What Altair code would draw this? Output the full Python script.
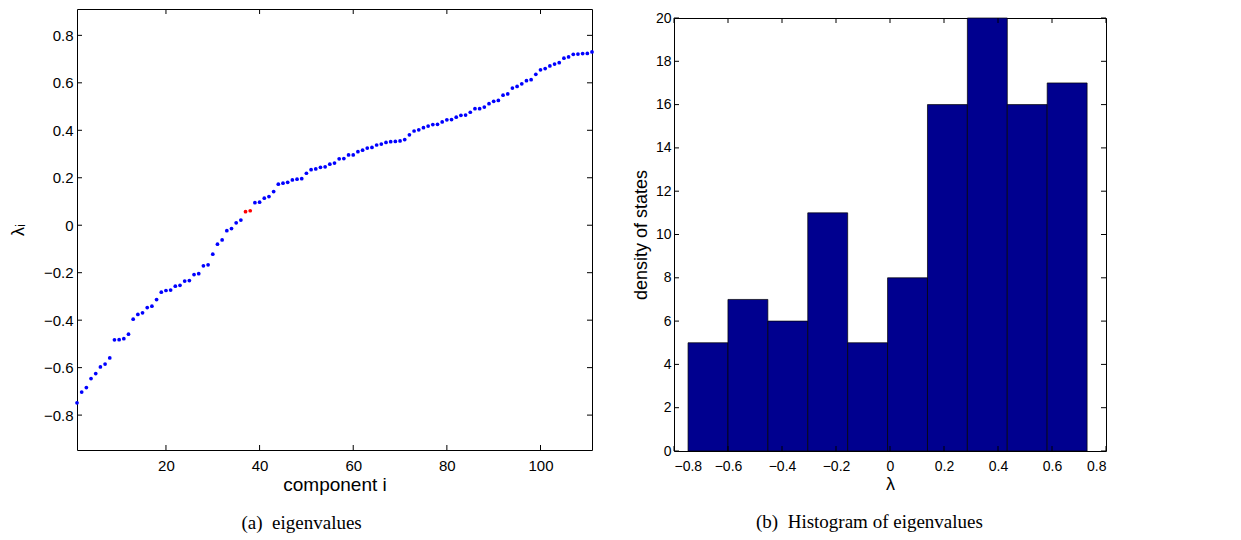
import altair as alt
import pandas as pd

# ---------------- data ----------------
component = list(range(1, 112))
eigenvalues = [
    -0.748, -0.703, -0.684, -0.646, -0.625, -0.597, -0.585, -0.559, -0.483, -0.482,
    -0.478, -0.459, -0.396, -0.376, -0.369, -0.347, -0.341, -0.313, -0.282, -0.275,
    -0.273, -0.257, -0.253, -0.235, -0.233, -0.208, -0.204, -0.171, -0.167, -0.122,
    -0.080, -0.062, -0.023, -0.014, 0.010, 0.022, 0.057, 0.061, 0.095, 0.097,
    0.114, 0.121, 0.142, 0.173, 0.177, 0.181, 0.191, 0.194, 0.196, 0.219,
    0.234, 0.237, 0.244, 0.246, 0.257, 0.262, 0.280, 0.281, 0.296, 0.296,
    0.310, 0.316, 0.325, 0.328, 0.338, 0.342, 0.349, 0.352, 0.353, 0.355,
    0.361, 0.381, 0.397, 0.402, 0.411, 0.418, 0.424, 0.425, 0.435, 0.444,
    0.445, 0.455, 0.463, 0.464, 0.476, 0.491, 0.491, 0.498, 0.512, 0.522,
    0.526, 0.548, 0.553, 0.578, 0.585, 0.596, 0.609, 0.613, 0.636, 0.655,
    0.660, 0.671, 0.679, 0.685, 0.704, 0.709, 0.720, 0.721, 0.723, 0.724,
    0.730,
]
highlighted = [37, 38]
hist_counts = [5, 7, 6, 11, 5, 8, 16, 20, 16, 17]

x_ticks_a = [20, 40, 60, 80, 100]
y_ticks_a = [-0.8, -0.6, -0.4, -0.2, 0, 0.2, 0.4, 0.6, 0.8]
x_ticks_b = [-0.8, -0.6, -0.4, -0.2, 0, 0.2, 0.4, 0.6, 0.8]
y_ticks_b = [0, 2, 4, 6, 8, 10, 12, 14, 16, 18, 20]

# ---------------- tables ----------------
df_a = pd.DataFrame({
    "i": component,
    "lam": eigenvalues,
    "hl": ["yes" if c in highlighted else "no" for c in component],
})

lam_min, lam_max = min(eigenvalues), max(eigenvalues)
nb = len(hist_counts)
bw = (lam_max - lam_min) / nb
df_b = pd.DataFrame({
    "start": [lam_min + k * bw for k in range(nb)],
    "end": [lam_min + (k + 1) * bw for k in range(nb)],
    "count": hist_counts,
})

TICK = 5

# ---------------- panel (a) ----------------
W_A, H_A = 515, 441
xs_a = alt.Scale(domain=[1, 111], nice=False, zero=False)
ys_a = alt.Scale(domain=[-0.947, 0.911], nice=False, zero=False)

pts = alt.Chart(df_a).mark_circle(size=14, opacity=1).encode(
    x=alt.X("i:Q", scale=xs_a,
            axis=alt.Axis(values=x_ticks_a, title="component i", labelFontSize=15,
                          titleFontSize=19, labelPadding=8, titlePadding=2)),
    y=alt.Y("lam:Q", scale=ys_a,
            axis=alt.Axis(values=y_ticks_a, format="~g", title="λᵢ", labelFontSize=15,
                          titleFontSize=18, labelPadding=4, titlePadding=16)),
    color=alt.Color("hl:N", scale=alt.Scale(domain=["no", "yes"], range=["#0000FF", "#FF0000"]),
                    legend=None),
)

tx_a = pd.DataFrame({"i": x_ticks_a})
ty_a = pd.DataFrame({"lam": y_ticks_a})
rule = dict(color="black", strokeWidth=1)
tb_a = alt.Chart(tx_a).mark_rule(**rule).encode(
    x=alt.X("i:Q", scale=xs_a), y=alt.value(H_A), y2=alt.value(H_A - TICK))
tt_a = alt.Chart(tx_a).mark_rule(**rule).encode(
    x=alt.X("i:Q", scale=xs_a), y=alt.value(0), y2=alt.value(TICK))
tl_a = alt.Chart(ty_a).mark_rule(**rule).encode(
    y=alt.Y("lam:Q", scale=ys_a), x=alt.value(0), x2=alt.value(TICK))
tr_a = alt.Chart(ty_a).mark_rule(**rule).encode(
    y=alt.Y("lam:Q", scale=ys_a), x=alt.value(W_A), x2=alt.value(W_A - TICK))

panel_a = alt.layer(pts, tb_a, tt_a, tl_a, tr_a).properties(
    width=W_A, height=H_A,
    title=alt.TitleParams("(a)\u2002eigenvalues", orient="bottom", offset=20, frame="bounds"),
)

# ---------------- panel (b) ----------------
W_B, H_B = 432, 433
xs_b = alt.Scale(domain=[-0.8, 0.8], nice=False, zero=False)
ys_b = alt.Scale(domain=[0, 20], nice=False, zero=False)

bars = alt.Chart(df_b).mark_rect(color="#00008F", stroke="black", strokeWidth=0.7, opacity=1).encode(
    x=alt.X("start:Q", scale=xs_b,
            axis=alt.Axis(values=x_ticks_b, format="~g", title="λ", labelFontSize=14,
                          titleFontSize=18, labelPadding=8, titlePadding=2)),
    x2="end:Q",
    y=alt.Y("count:Q", scale=ys_b,
            axis=alt.Axis(values=y_ticks_b, format="d", title="density of states",
                          labelFontSize=14, titleFontSize=18, labelPadding=3, titlePadding=5)),
    y2=alt.datum(0),
)

tx_b = pd.DataFrame({"start": x_ticks_b})
ty_b = pd.DataFrame({"count": y_ticks_b})
tb_b = alt.Chart(tx_b).mark_rule(**rule).encode(
    x=alt.X("start:Q", scale=xs_b), y=alt.value(H_B), y2=alt.value(H_B - TICK))
tt_b = alt.Chart(tx_b).mark_rule(**rule).encode(
    x=alt.X("start:Q", scale=xs_b), y=alt.value(0), y2=alt.value(TICK))
tl_b = alt.Chart(ty_b).mark_rule(**rule).encode(
    y=alt.Y("count:Q", scale=ys_b), x=alt.value(0), x2=alt.value(TICK))
tr_b = alt.Chart(ty_b).mark_rule(**rule).encode(
    y=alt.Y("count:Q", scale=ys_b), x=alt.value(W_B), x2=alt.value(W_B - TICK))

panel_b = alt.layer(bars, tb_b, tt_b, tl_b, tr_b).properties(
    width=W_B, height=H_B,
    title=alt.TitleParams("(b)\u2002Histogram of eigenvalues", orient="bottom", offset=20,
                          frame="bounds"),
)

# invisible 1px strip so the right column starts at the same top as the left one
spacer = alt.Chart(pd.DataFrame({"v": [0]})).mark_rect(opacity=0).encode(
    x=alt.value(0), x2=alt.value(1), y=alt.value(0), y2=alt.value(1)
).properties(width=1, height=1, view=alt.ViewBackground(stroke=None))

right = alt.vconcat(spacer, panel_b, spacing=0)

chart = alt.hconcat(panel_a, right, spacing=36).properties(
    padding=0
).configure_view(
    stroke="black", strokeWidth=1
).configure_axis(
    labelFont="Liberation Sans", titleFont="Liberation Sans",
    labelColor="black", titleColor="black", titleFontWeight="normal",
    grid=False, ticks=False, domain=False,
).configure_title(
    font="Liberation Serif", fontSize=19, fontWeight="normal", color="black", anchor="middle",
)

chart.save("out.html", embed_options={"renderer": "svg", "actions": False})
